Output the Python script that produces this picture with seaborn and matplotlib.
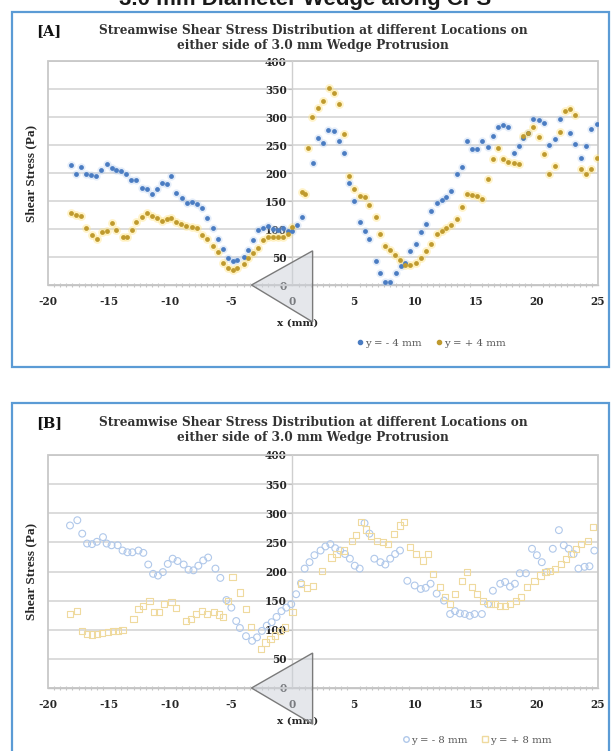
import matplotlib
matplotlib.use("Agg")
import matplotlib.pyplot as plt
import seaborn as sns
import pandas as pd
from matplotlib.patches import Rectangle, Polygon
from matplotlib.lines import Line2D

# ---------------- data ----------------
x_ticks = [-20, -15, -10, -5, 0, 5, 10, 15, 20, 25]
y_ticks = [0, 50, 100, 150, 200, 250, 300, 350, 400]

# Panel A, y = -4 mm
a_x_neg4 = [-18.1, -17.7, -17.3, -16.9, -16.5, -16.1, -15.7, -15.2, -14.8, -14.4, -14.0, -13.6,
            -13.2, -12.8, -12.3, -11.9, -11.5, -11.1, -10.7, -10.3, -9.9, -9.5, -9.0, -8.6,
            -8.2, -7.8, -7.4, -7.0, -6.5, -6.1, -5.7, -5.3, -4.9, -4.5, -4.0, -3.6, -3.2, -2.8,
            -2.4, -2.0, -1.6, -1.2, -0.8, -0.4, 0.0, 0.4, 0.8, 1.7, 2.1, 2.5, 2.9, 3.4, 3.8,
            4.2, 4.6, 5.0, 5.5, 5.9, 6.3, 6.8, 7.2, 7.6, 8.0, 8.5, 8.9, 9.2, 9.6, 10.1, 10.5,
            10.9, 11.3, 11.8, 12.2, 12.6, 13.0, 13.5, 13.9, 14.3, 14.7, 15.1, 15.5, 16.0, 16.4,
            16.8, 17.2, 17.6, 18.1, 18.5, 18.9, 19.3, 19.7, 20.2, 20.6, 21.0, 21.5, 21.9, 22.7,
            23.1, 23.6, 24.0, 24.4, 24.9]
a_y_neg4 = [214, 199, 211, 199, 197, 194, 205, 216, 209, 205, 203, 199,
            187, 187, 174, 171, 162, 171, 183, 180, 194, 165, 155, 146,
            149, 145, 137, 120, 101, 83, 65, 48, 42, 44, 50, 63, 80, 98,
            102, 105, 100, 98, 101, 97, 96, 108, 122, 217, 262, 254, 276, 275, 258,
            236, 182, 150, 113, 96, 82, 43, 21, 6, 6, 21, 34, 40, 60, 74, 94,
            109, 133, 147, 152, 158, 167, 198, 211, 257, 243, 243, 257, 246, 266,
            283, 286, 282, 236, 248, 262, 272, 296, 294, 290, 250, 260, 296, 272,
            251, 227, 249, 278, 287]

# Panel A, y = +4 mm
a_x_pos4 = [-18.1, -17.7, -17.3, -16.9, -16.4, -16.0, -15.6, -15.2, -14.8, -14.4, -13.9, -13.5,
            -13.1, -12.8, -12.3, -11.9, -11.5, -11.1, -10.7, -10.3, -9.9, -9.5, -9.1, -8.7,
            -8.2, -7.8, -7.4, -7.0, -6.5, -6.1, -5.7, -5.3, -4.9, -4.5, -4.0, -3.6, -3.2, -2.8,
            -2.4, -2.0, -1.6, -1.2, -0.8, -0.4, 0.0, 0.8, 1.0, 1.3, 1.6, 2.1, 2.5, 3.0, 3.4,
            3.8, 4.2, 4.6, 5.0, 5.5, 5.9, 6.3, 6.8, 7.2, 7.6, 8.0, 8.4, 8.8, 9.2, 9.6, 10.1,
            10.5, 10.9, 11.3, 11.8, 12.2, 12.6, 13.0, 13.5, 13.9, 14.3, 14.7, 15.1, 15.5, 16.0,
            16.4, 16.8, 17.2, 17.6, 18.1, 18.5, 18.9, 19.3, 19.7, 20.2, 20.6, 21.0, 21.5, 21.9,
            22.3, 22.7, 23.1, 23.6, 24.0, 24.4, 24.9]
a_y_pos4 = [129, 125, 123, 101, 89, 82, 95, 97, 110, 98, 86, 86,
            99, 113, 121, 128, 123, 119, 115, 117, 119, 113, 109, 105,
            103, 101, 89, 82, 70, 59, 40, 30, 26, 30, 38, 48, 57, 66,
            80, 86, 86, 86, 86, 91, 104, 166, 163, 245, 300, 316, 329, 351, 343,
            323, 270, 195, 171, 159, 158, 143, 121, 91, 70, 63, 54, 45, 36, 36, 39,
            48, 61, 73, 91, 97, 102, 108, 118, 140, 162, 161, 159, 154, 190,
            225, 245, 225, 219, 217, 216, 266, 271, 283, 264, 234, 199, 213, 274,
            310, 314, 304, 207, 199, 207, 226]

# Panel B, y = -8 mm
b_x_neg8 = [-18.2, -17.6, -17.2, -16.8, -16.4, -16.0, -15.5, -15.2, -14.8, -14.3, -13.9, -13.5,
            -13.1, -12.6, -12.2, -11.8, -11.4, -11.0, -10.6, -10.2, -9.8, -9.4, -8.9, -8.5,
            -8.1, -7.7, -7.3, -6.9, -6.3, -5.9, -5.4, -5.0, -4.6, -4.3, -3.8, -3.3, -2.9, -2.5,
            -2.1, -1.7, -1.3, -0.9, -0.5, -0.1, 0.3, 0.7, 1.0, 1.4, 1.8, 2.3, 2.7, 3.1, 3.5,
            3.9, 4.3, 4.7, 5.1, 5.5, 5.9, 6.3, 6.7, 7.2, 7.6, 8.0, 8.4, 8.8, 9.4, 10.0, 10.5,
            10.9, 11.3, 11.8, 12.4, 12.9, 13.3, 13.7, 14.1, 14.5, 14.9, 15.5, 16.0, 16.4, 17.0,
            17.4, 17.8, 18.2, 18.6, 19.1, 19.6, 20.0, 20.4, 20.8, 21.3, 21.8, 22.2, 22.6, 23.0,
            23.4, 23.9, 24.3, 24.7]
b_y_neg8 = [279, 288, 265, 248, 247, 251, 259, 248, 245, 245, 236, 233,
            233, 236, 232, 212, 196, 193, 199, 213, 222, 218, 212, 203,
            202, 210, 219, 224, 205, 189, 151, 138, 115, 103, 89, 81, 87, 98,
            107, 113, 122, 132, 138, 144, 161, 180, 205, 216, 228, 236, 243, 247, 240,
            236, 230, 222, 210, 205, 283, 265, 222, 216, 212, 222, 230, 236, 184, 176, 170,
            172, 179, 162, 150, 127, 132, 128, 127, 124, 127, 127, 144, 167, 179,
            182, 174, 179, 197, 197, 239, 228, 216, 199, 239, 271, 245, 239, 230,
            205, 208, 209, 236]

# Panel B, y = +8 mm
b_x_pos8 = [-18.2, -17.6, -17.2, -16.8, -16.4, -16.0, -15.6, -15.1, -14.7, -14.3, -13.9, -13.0,
            -12.6, -12.2, -11.7, -11.3, -10.9, -10.5, -9.9, -9.5, -8.7, -8.3, -7.9, -7.4,
            -7.0, -6.4, -6.0, -5.7, -5.3, -4.9, -4.3, -3.8, -3.4, -2.6, -2.2, -1.8, -1.4, -1.0,
            -0.6, 0.0, 0.7, 1.2, 1.7, 2.4, 3.2, 3.6, 4.2, 4.9, 5.2, 5.6, 6.0, 6.4, 6.9, 7.4,
            7.8, 8.3, 8.8, 9.1, 9.6, 10.1, 10.7, 11.1, 11.5, 12.1, 12.5, 12.9, 13.3, 13.9, 14.3,
            14.7, 15.1, 15.6, 16.2, 16.6, 17.0, 17.4, 17.8, 18.3, 18.7, 19.2, 19.8, 20.3, 20.7,
            21.1, 21.5, 22.0, 22.4, 22.8, 23.2, 23.6, 24.2, 24.6]
b_y_pos8 = [127, 132, 98, 93, 92, 93, 95, 96, 98, 98, 100, 118,
            135, 141, 150, 130, 130, 144, 147, 138, 115, 118, 127, 132,
            127, 130, 126, 122, 150, 190, 164, 135, 105, 67, 78, 84, 90, 98,
            104, 130, 178, 172, 175, 201, 224, 230, 236, 253, 262, 285, 272, 261, 253, 250,
            247, 264, 279, 285, 242, 230, 219, 230, 196, 173, 156, 144, 161, 184, 199,
            173, 161, 150, 144, 144, 141, 141, 144, 150, 156, 173, 184, 193, 199,
            201, 204, 213, 222, 230, 239, 247, 253, 276]

# wedge outline (x mm, stress-axis units) drawn on each panel
wedge_a = [(-3.35, 0), (1.65, 61), (1.65, -66)]
wedge_b = [(-3.35, 0), (1.65, 60), (1.65, -62)]

title_lines = ("Streamwise Shear Stress Distribution at different Locations on\n"
               "either side of 3.0 mm Wedge Protrusion")

# ---------------- styling ----------------
sns.set_theme(style="white")
SERIF = ['DejaVu Serif', 'Liberation Serif']
plt.rcParams['font.family'] = SERIF

W, H = 611, 751
fig = plt.figure(figsize=(W / 100, H / 100), dpi=100)

BLUE = '#4A7CC2'
GOLD = '#BF9A2E'
B_BLUE = '#B0C8EA'
B_GOLD = '#EFDA9E'
TICK_COL = '#262626'
GRID_COL = '#D9D9D9'


def fx(px):
    return px / W


def fy(py):
    return 1 - py / H


def setup_axes(ax, wedge, xlabel_drop):
    ax.set_xlim(-20, 25)
    ax.set_ylim(0, 400)
    ax.set_xticks(x_ticks)
    ax.set_xticks([v / 2 for v in range(-40, 51)], minor=True)
    ax.set_yticks(y_ticks)
    ax.set_xticklabels([str(v) for v in x_ticks])
    ax.set_yticklabels([str(v) for v in y_ticks])
    ax.yaxis.grid(True, color=GRID_COL, lw=1.3, zorder=0)
    ax.xaxis.grid(False)
    ax.set_axisbelow(True)
    for s in ('top', 'right'):
        ax.spines[s].set_visible(False)
    ax.spines['left'].set_position(('data', 0))
    ax.spines['left'].set_color('#CFCFCF')
    ax.spines['left'].set_linewidth(1.0)
    ax.spines['bottom'].set_color('#C4C4C4')
    ax.spines['bottom'].set_linewidth(1.0)
    ax.add_patch(Rectangle((0, 0), 1, 1, transform=ax.transAxes, fill=False,
                           ec='#C8C8C8', lw=1.3, clip_on=False, zorder=1))
    ax.tick_params(axis='x', which='major', length=0, pad=8, labelsize=7.6,
                   labelcolor=TICK_COL)
    ax.tick_params(axis='x', which='minor', length=2.5, width=0.8, color='#C4C4C4',
                   direction='inout', bottom=True)
    ax.tick_params(axis='y', length=3, width=0.8, color='#BFBFBF', pad=1,
                   labelsize=7.6, labelcolor=TICK_COL, left=True)
    for lab in ax.get_xticklabels() + ax.get_yticklabels():
        lab.set_fontweight('bold')
    ax.set_ylabel('Shear Stress (Pa)', fontsize=9.5, fontweight='bold', color=TICK_COL,
                  family='Liberation Serif')
    ax.yaxis.set_label_coords(-0.02, 0.5)
    ax.set_xlabel('x (mm)', fontsize=7.5, fontweight='bold', color=TICK_COL)
    ax.xaxis.set_label_coords((298 - 48) / 550, xlabel_drop)
    ax.add_patch(Polygon(wedge, closed=True, fc=(0.80, 0.82, 0.85, 0.5),
                         ec='#7A7A7A', lw=1.0, clip_on=False, zorder=4))


# ---------------- panel A ----------------
axA = fig.add_axes([fx(48), fy(285), 550 / W, 224 / H])
dfA1 = pd.DataFrame({'x': a_x_neg4, 'stress': a_y_neg4})
dfA2 = pd.DataFrame({'x': a_x_pos4, 'stress': a_y_pos4})
sns.scatterplot(data=dfA1, x='x', y='stress', ax=axA, color='#A9C6EE', s=36,
                alpha=0.3, linewidth=0, legend=False, zorder=5)
sns.scatterplot(data=dfA2, x='x', y='stress', ax=axA, color='#FFE27A', s=40,
                alpha=0.4, linewidth=0, legend=False, zorder=5)
sns.scatterplot(data=dfA1, x='x', y='stress', ax=axA, color=BLUE, s=12,
                linewidth=0, legend=False, zorder=6)
sns.scatterplot(data=dfA2, x='x', y='stress', ax=axA, color=GOLD, s=12,
                linewidth=0, legend=False, zorder=6)
setup_axes(axA, wedge_a, -34 / 224)

# ---------------- panel B ----------------
axB = fig.add_axes([fx(48), fy(688), 550 / W, 233 / H])
dfB1 = pd.DataFrame({'x': b_x_neg8, 'stress': b_y_neg8})
dfB2 = pd.DataFrame({'x': b_x_pos8, 'stress': b_y_pos8})
sns.scatterplot(data=dfB1, x='x', y='stress', ax=axB, marker='o', s=24,
                linewidth=0.8, legend=False, zorder=5)
axB.collections[-1].set_facecolor('none')
axB.collections[-1].set_edgecolor(B_BLUE)
sns.scatterplot(data=dfB2, x='x', y='stress', ax=axB, marker='s', s=20,
                linewidth=0.8, legend=False, zorder=5)
axB.collections[-1].set_facecolor('none')
axB.collections[-1].set_edgecolor(B_GOLD)
setup_axes(axB, wedge_b, -29 / 233)

# ---------------- legends ----------------
legA = [Line2D([], [], ls='', marker='o', ms=3, color=BLUE),
        Line2D([], [], ls='', marker='o', ms=3, color=GOLD)]
fig.legend(legA, ['y = - 4 mm', 'y = + 4 mm'], loc='center',
           bbox_to_anchor=(fx(431), fy(343)), ncol=2, frameon=False,
           handletextpad=0.1, columnspacing=1.3, handlelength=0.8,
           prop={'family': 'DejaVu Serif', 'size': 7.3}, labelcolor='#595959')
legB = [Line2D([], [], ls='', marker='o', ms=4, mfc='none', mec=B_BLUE),
        Line2D([], [], ls='', marker='s', ms=4, mfc='none', mec=B_GOLD)]
fig.legend(legB, ['y = - 8 mm', 'y = + 8 mm'], loc='center',
           bbox_to_anchor=(fx(477), fy(740)), ncol=2, frameon=False,
           handletextpad=0.1, columnspacing=1.3, handlelength=0.8,
           prop={'family': 'DejaVu Serif', 'size': 7.3}, labelcolor='#595959')

# ---------------- titles and frames ----------------
fig.text(fx(305), fy(5), '3.0 mm Diameter Wedge along CFS', ha='center',
         va='baseline', fontsize=16, fontweight='bold', family='Liberation Sans',
         color='#1A1A1A')
for tag, ty in (('[A]', 31), ('[B]', 423)):
    fig.text(fx(36), fy(ty), tag, ha='left', va='center', fontsize=10.5,
             fontweight='bold', color='#111111')
    fig.text(fx(313), fy(ty + 7), title_lines, ha='center', va='center',
             fontsize=8.7, fontweight='bold', color='#333333', linespacing=1.1)

fig.add_artist(Rectangle((fx(12), fy(367)), (609 - 12) / W, (367 - 12) / H,
                         transform=fig.transFigure, fill=False, ec='#5B9BD5', lw=1.6))
fig.add_artist(Rectangle((fx(12), -0.02), (609 - 12) / W, fy(403) + 0.02,
                         transform=fig.transFigure, fill=False, ec='#5B9BD5', lw=1.6))

fig.savefig('out.png', dpi=100)
